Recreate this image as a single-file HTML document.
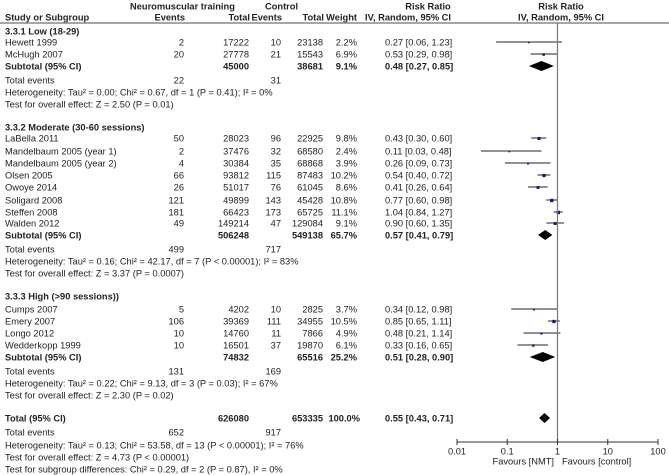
<!DOCTYPE html>
<html><head><meta charset="utf-8"><style>
html,body{margin:0;padding:0;background:#fff;}
svg{display:block;font-family:"Liberation Sans",Arial,sans-serif;}
text{font-size:9.3px;fill:#222;}
.b{font-weight:bold;}
</style></head><body>
<svg id="fp" width="669" height="475" viewBox="0 0 669 475">
<g id="tbl"></g>
<g id="plot"></g>
</svg>
<script>
const studyNames = ["Hewett 1999","McHugh 2007","LaBella 2011","Mandelbaum 2005 (year 1)","Mandelbaum 2005 (year 2)","Olsen 2005","Owoye 2014","Soligard 2008","Steffen 2008","Walden 2012","Cumps 2007","Emery 2007","Longo 2012","Wedderkopp 1999"];
const studyGroup = [0,0,1,1,1,1,1,1,1,1,2,2,2,2];
const nmtEvents = [2,20,50,2,4,66,26,121,181,49,5,106,10,10];
const nmtTotal = [17222,27778,28023,37476,30384,93812,51017,49899,66423,149214,4202,39369,14760,16501];
const ctlEvents = [10,21,96,32,35,115,76,143,173,47,10,111,11,37];
const ctlTotal = [23138,15543,22925,68580,68868,87483,61045,45428,65725,129084,2825,34955,7866,19870];
const weights = [2.2,6.9,9.8,2.4,3.9,10.2,8.6,10.8,11.1,9.1,3.7,10.5,4.9,6.1];
const rr = [0.27,0.53,0.43,0.11,0.26,0.54,0.41,0.77,1.04,0.90,0.34,0.85,0.48,0.33];
const lo = [0.06,0.29,0.30,0.03,0.09,0.40,0.26,0.60,0.84,0.60,0.12,0.65,0.21,0.16];
const hi = [1.23,0.98,0.60,0.48,0.73,0.72,0.64,0.98,1.27,1.35,0.98,1.11,1.14,0.65];

const groupNames = ["3.3.1 Low (18-29)","3.3.2 Moderate (30-60 sessions)","3.3.3 High (>90 sessions))"];
const subNmtTotal = [45000,506248,74832];
const subCtlTotal = [38681,549138,65516];
const subWeight = ["9.1%","65.7%","25.2%"];
const subRR = [0.48,0.57,0.51];
const subLo = [0.27,0.41,0.28];
const subHi = [0.85,0.79,0.90];
const subNmtEvents = [22,499,131];
const subCtlEvents = [31,717,169];
const subHet = ["Heterogeneity: Tau² = 0.00; Chi² = 0.67, df = 1 (P = 0.41); I² = 0%","Heterogeneity: Tau² = 0.16; Chi² = 42.17, df = 7 (P < 0.00001); I² = 83%","Heterogeneity: Tau² = 0.22; Chi² = 9.13, df = 3 (P = 0.03); I² = 67%"];
const subTest = ["Test for overall effect: Z = 2.50 (P = 0.01)","Test for overall effect: Z = 3.37 (P = 0.0007)","Test for overall effect: Z = 2.30 (P = 0.02)"];

const totNmt = 626080, totCtl = 653335, totRR = 0.55, totLo = 0.43, totHi = 0.71;
const totNmtEvents = 652, totCtlEvents = 917;
const totLines = ["Heterogeneity: Tau² = 0.13; Chi² = 53.58, df = 13 (P < 0.00001); I² = 76%","Test for overall effect: Z = 4.73 (P < 0.00001)","Test for subgroup differences: Chi² = 0.29, df = 2 (P = 0.87), I² = 0%"];
const tickValues = [0.01,0.1,1,10,100];
const tickLabels = ["0.01","0.1","1","10","100"];

const NS = "http://www.w3.org/2000/svg";
const tbl = document.getElementById("tbl");
const plot = document.getElementById("plot");
const X0 = 457, DEC = 50.25;
function xs(v){ return X0 + (Math.log10(v) + 2) * DEC; }
function mk(tag, attrs, parent){ const e=document.createElementNS(NS,tag); for(const k in attrs) e.setAttribute(k,attrs[k]); parent.appendChild(e); return e; }
function txt(s, x, y, anchor, bold, name){
  const t = mk("text",{x:x,y:y+3.3,"text-anchor":anchor||"start"},tbl);
  if(bold) t.setAttribute("class","b");
  t.textContent = s;
  
  
  return t;
}
const C = {name:5, ne:184, nt:249, ce:281, ct:323, w:357, rr:385};
function fmt(v){ return v.toFixed(2); }
function rrs(a,b,c){ return fmt(a)+" ["+fmt(b)+", "+fmt(c)+"]"; }

txt("Neuromuscular training",130,6,"start",true,"header-nmt");
txt("Control",265,6,"start",true,"header-control");
txt("Risk Ratio",428,6,"middle",true,"header-risk-ratio");
txt("Risk Ratio",561,6,"middle",true,"header-risk-ratio-plot");
txt("Study or Subgroup",C.name,17,"start",true,"header-study");
txt("Events",C.ne+1,17,"end",true,"header-nmt-events");
txt("Total",C.nt+1,17,"end",true,"header-nmt-total");
txt("Events",C.ce+1,17,"end",true,"header-control-events");
txt("Total",C.ct+1,17,"end",true,"header-control-total");
txt("Weight",C.w,17,"end",true,"header-weight");
txt("IV, Random, 95% CI",408,17,"middle",true,"header-ci");
txt("IV, Random, 95% CI",561,17,"middle",true,"header-ci-plot");
let hl = mk("line",{x1:0,y1:23,x2:669,y2:23,stroke:"#888","stroke-width":1.5},tbl);



const groupY = [31,127,296];
const studyY = [42,54,138,151,163,175,187,200,212,223,309,321,333,345];
const subY = [66,235,357];
const navy = "#1a1a70";

function diamond(c,l,h,y,name){
  const d = mk("polygon",{points:`${xs(l)},${y} ${xs(c)},${y-5} ${xs(h)},${y} ${xs(c)},${y+5}`,fill:"#000"},plot);
  
  
}

for(let g=0; g<3; g++){
  txt(groupNames[g],C.name,groupY[g],"start",true,"group-title-"+(g+1));
  const sy = subY[g];
  txt("Subtotal (95% CI)",C.name,sy,"start",true,"subtotal-label");
  txt(String(subNmtTotal[g]),C.nt,sy,"end",true,"subtotal-nmt-total");
  txt(String(subCtlTotal[g]),C.ct,sy,"end",true,"subtotal-control-total");
  txt(subWeight[g],C.w,sy,"end",true,"subtotal-weight");
  txt(rrs(subRR[g],subLo[g],subHi[g]),C.rr,sy,"start",true,"subtotal-rr");
  diamond(subRR[g],subLo[g],subHi[g],sy,"subtotal-diamond-"+(g+1));
  txt("Total events",C.name,sy+14,"start",false,"total-events-label");
  txt(String(subNmtEvents[g]),C.ne,sy+14,"end",false,"subtotal-nmt-events");
  txt(String(subCtlEvents[g]),C.ce,sy+14,"end",false,"subtotal-control-events");
  txt(subHet[g],C.name,sy+26,"start",false,"heterogeneity-text");
  txt(subTest[g],C.name,sy+38,"start",false,"overall-effect-text");
}

for(let i=0;i<studyNames.length;i++){
  const y = studyY[i];
  txt(studyNames[i],C.name,y,"start",false,"study-name");
  txt(String(nmtEvents[i]),C.ne,y,"end",false,"nmt-events");
  txt(String(nmtTotal[i]),C.nt,y,"end",false,"nmt-total");
  txt(String(ctlEvents[i]),C.ce,y,"end",false,"control-events");
  txt(String(ctlTotal[i]),C.ct,y,"end",false,"control-total");
  txt(weights[i].toFixed(1)+"%",C.w,y,"end",false,"weight");
  txt(rrs(rr[i],lo[i],hi[i]),C.rr,y,"start",false,"risk-ratio-ci");
  const ln = mk("line",{x1:xs(lo[i]),y1:y,x2:xs(hi[i]),y2:y,stroke:"#223","stroke-width":1},plot);
  
  
  const s = 1.2 + weights[i]*0.2;
  const sq = mk("rect",{x:xs(rr[i])-s/2,y:y-s/2+0.5,width:s,height:s,fill:navy},plot);
  
  
}

const ty = 418;
txt("Total (95% CI)",C.name,ty,"start",true,"total-label");
txt(String(totNmt),C.nt,ty,"end",true,"total-nmt");
txt(String(totCtl),C.ct,ty,"end",true,"total-control");
txt("100.0%",C.w+3,ty,"end",true,"total-weight");
txt(rrs(totRR,totLo,totHi),C.rr,ty,"start",true,"total-rr");
diamond(totRR,totLo,totHi,ty,"total-diamond");
txt("Total events",C.name,ty+14,"start",false,"total-events-label");
txt(String(totNmtEvents),C.ne,ty+14,"end",false,"total-nmt-events");
txt(String(totCtlEvents),C.ce,ty+14,"end",false,"total-control-events");
txt(totLines[0],C.name,ty+27,"start",false,"total-heterogeneity");
txt(totLines[1],C.name,ty+39,"start",false,"total-overall-effect");
txt(totLines[2],C.name,ty+51,"start",false,"subgroup-differences");

const vl = mk("line",{x1:xs(1),y1:23,x2:xs(1),y2:442,stroke:"#777","stroke-width":1.2},plot);


const ax = mk("line",{x1:xs(tickValues[0]),y1:442,x2:xs(tickValues[tickValues.length-1]),y2:442,stroke:"#333","stroke-width":1},plot);


for(let i=0;i<tickValues.length;i++){
  const x = xs(tickValues[i]);
  const t = mk("line",{x1:x,y1:439,x2:x,y2:445,stroke:"#333","stroke-width":1},plot);
  
  
  txt(tickLabels[i],x,451,"middle",false,"x-tick-label");
}
txt("Favours [NMT]",554,461,"end",false,"favours-nmt-label");
txt("Favours [control]",562,461,"start",false,"favours-control-label");
</script>
</body></html>
